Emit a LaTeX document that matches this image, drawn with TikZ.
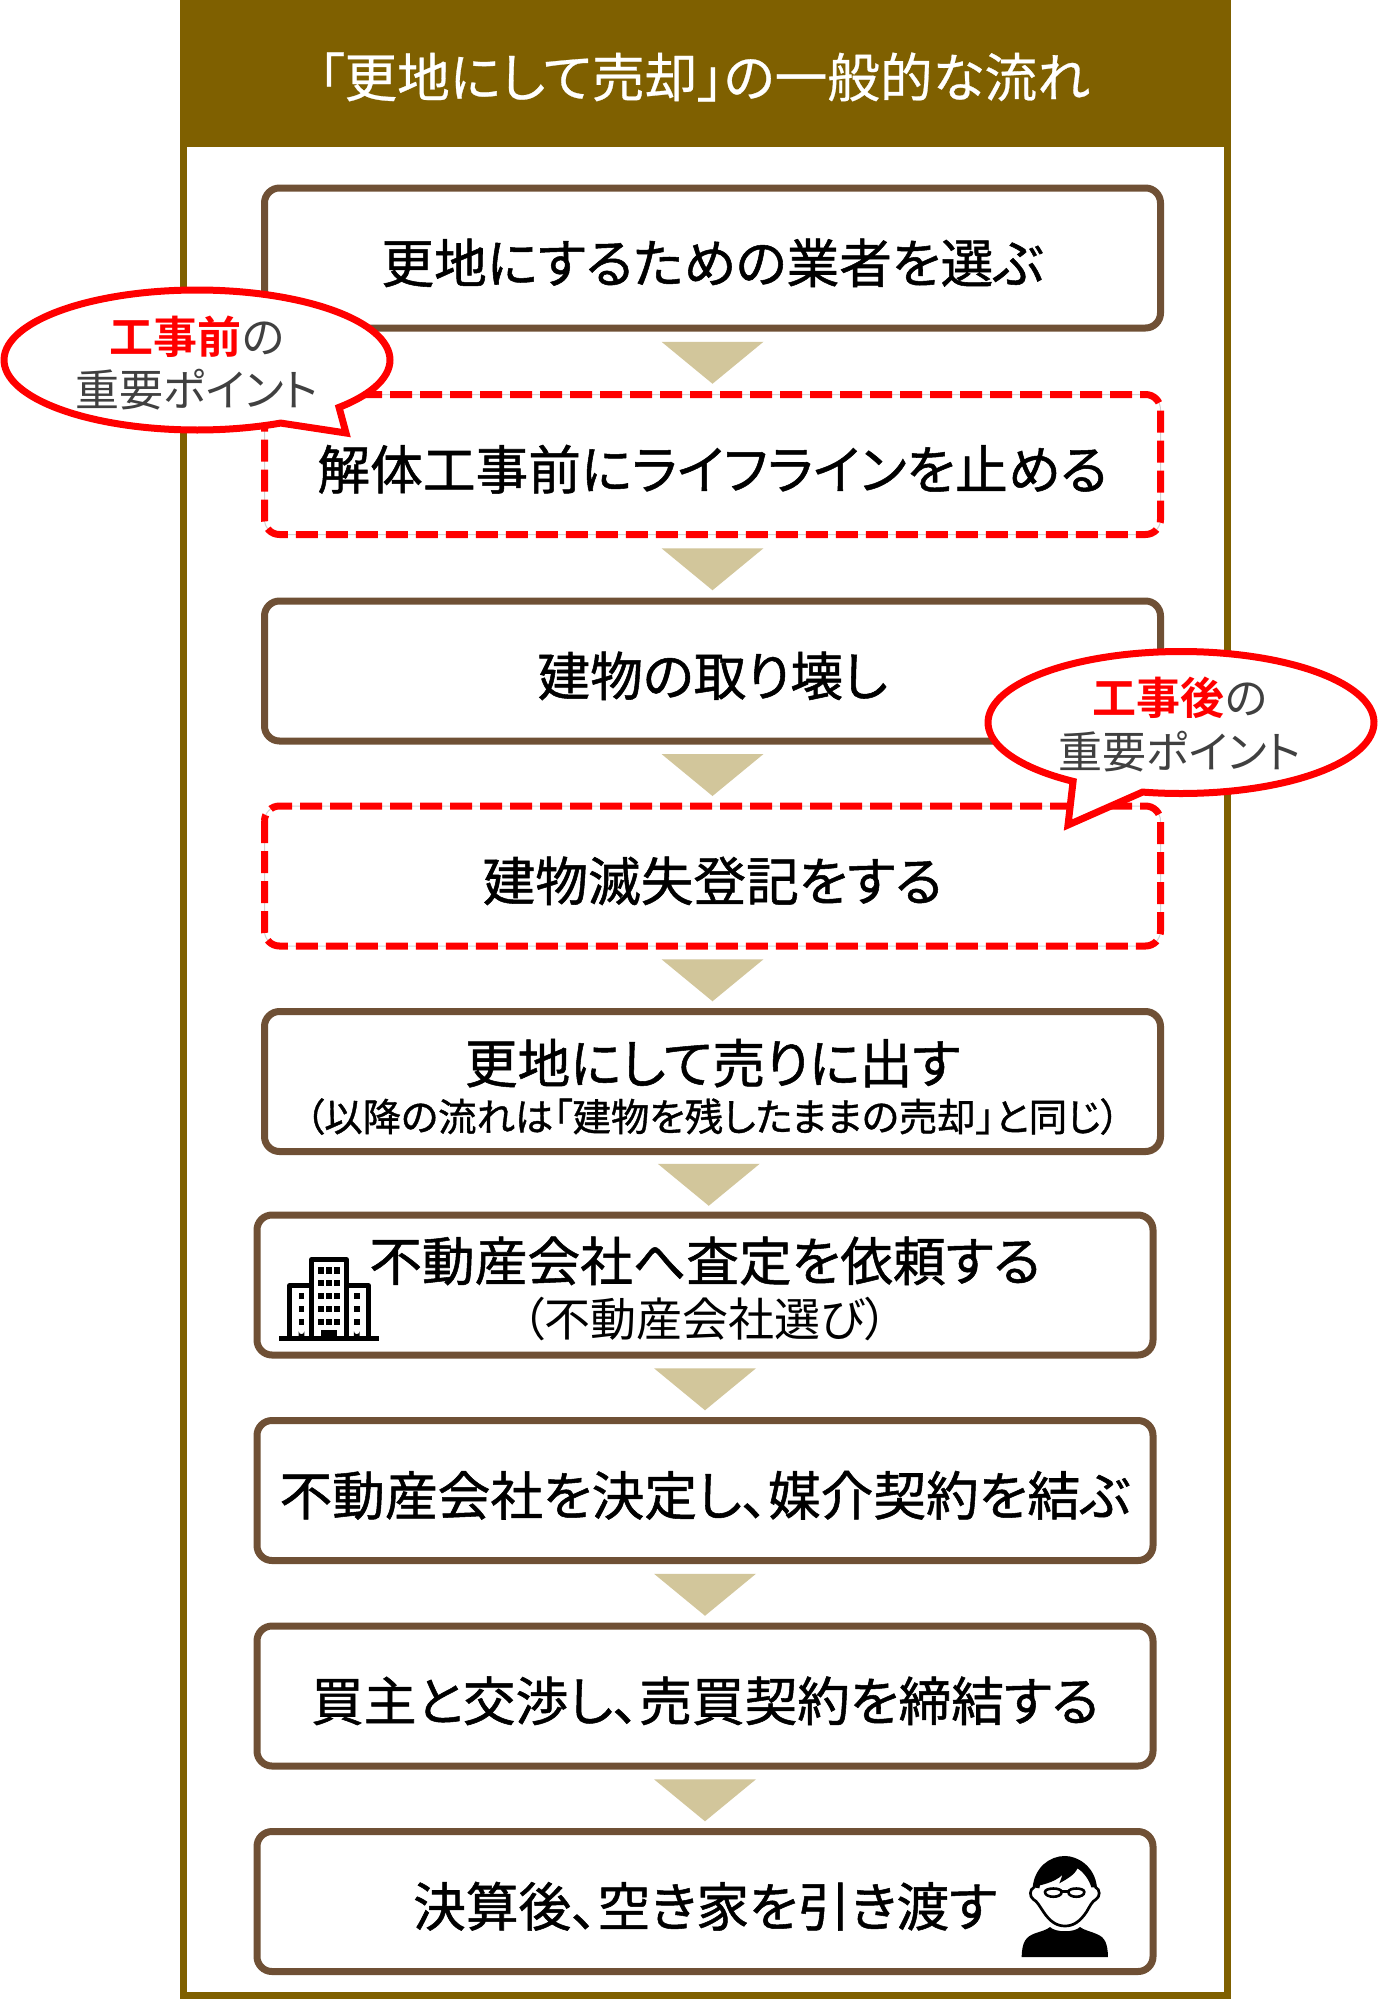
\documentclass[tikz,border=0pt]{standalone}
\usepackage{fontspec}
\setmainfont{Noto Sans CJK JP}
\newfontfamily\jpm[RawFeature={+palt},FakeBold=1.0]{Noto Sans CJK JP}
\newfontfamily\jpt[RawFeature={+palt},FakeBold=0.5]{Noto Sans CJK JP}
\newfontfamily\jpr[RawFeature={+palt}]{Noto Sans CJK JP}
\newfontfamily\jpb[RawFeature={+palt}]{Noto Sans CJK JP Bold}
\usetikzlibrary{calc}
\definecolor{framec}{HTML}{7F6000}
\definecolor{boxc}{HTML}{6F5035}
\definecolor{tric}{HTML}{D2C69B}
\definecolor{greyt}{HTML}{404040}
\newcommand{\bigt}{\fontsize{52.7}{60}\selectfont}
\newcommand{\smallt}{\fontsize{38.4}{44}\selectfont}
\newcommand{\callt}{\fontsize{44}{53}\selectfont}
\newcommand{\dn}{\rule{0pt}{54pt}}
\tikzset{
  stepbox/.style={rectangle,rounded corners=15pt,draw=boxc,fill=white,line width=7pt,outer sep=0pt,
    minimum width=896pt,minimum height=140pt,inner sep=0pt,align=center,font=\jpm\bigt,text=black},
  keyline/.style={rounded corners=15pt,draw=black!18,line width=1pt},
  keydash/.style={rounded corners=15pt,draw=red,line width=7pt,dash pattern=on 22pt off 8pt},
  tri/.style={fill=tric,draw=none},
  call/.style={draw=red,fill=white,line width=7pt,miter limit=10},
  calltext/.style={inner sep=0pt,align=center,font=\jpr\callt,text=greyt},
  ink/.style={fill=black,draw=none},
}
\newcommand{\keyframe}[1]{%
  \draw[keyline] (#1.north west) rectangle (#1.south east);
  \draw[keydash] (#1.north west) rectangle (#1.south east);}
\newcommand{\downtri}[2]{\fill[tri] ($(#1.south)!0.5!(#2.north)+(-51,-19.5)$) -- ++(102,0) -- ++(-51,42) -- cycle;}
\begin{document}
\begin{tikzpicture}[x=1pt,y=-1pt]
\useasboundingbox (0,0) rectangle (1379,1999);
\fill[white] (0,0) rectangle (1379,1999);
% frame
\fill[framec] (180,0) rectangle (1231,147);
\fill[framec] (180,147) rectangle (187,1999);
\fill[framec] (1224,147) rectangle (1231,1999);
\fill[framec] (187,1992) rectangle (1224,1999);
\node[inner sep=0pt,text=white,font=\jpt\fontsize{52.7}{60}\selectfont] (title) at (704,77) {「更地にして売却」の一般的な流れ};
% boxes
\node[stepbox] (b1) at (712.5,258) {\dn 更地にするための業者を選ぶ};
\node[stepbox,draw=none] (b2) at (712.5,464.5) {\dn 解体工事前にライフラインを止める};
\keyframe{b2}
\node[stepbox] (b3) at (712.5,671) {\dn 建物の取り壊し};
\node[stepbox,draw=none] (b4) at (712.5,876) {\dn 建物滅失登記をする};
\keyframe{b4}
\node[stepbox] (b5) at (712.5,1081.5) {\rule{0pt}{55pt}更地にして売りに出す\\[-12pt]{\smallt （以降の流れは「建物を残したままの売却」と同じ）}};
\node[stepbox] (b6) at (705,1285) {\rule{0pt}{52pt}不動産会社へ査定を依頼する\\[-4pt]{\jpr\fontsize{46}{50}\selectfont （不動産会社選び）}};
\node[stepbox] (b7) at (705,1490.5) {\dn 不動産会社を決定し、媒介契約を結ぶ};
\node[stepbox] (b8) at (705,1696) {\dn 買主と交渉し、売買契約を締結する};
\node[stepbox] (b9) at (705,1901.5) {\dn 決算後、空き家を引き渡す};
% triangles
\downtri{b1}{b2}
\downtri{b2}{b3}
\downtri{b3}{b4}
\downtri{b4}{b5}
\downtri{b5}{b6}
\downtri{b6}{b7}
\downtri{b7}{b8}
\downtri{b8}{b9}
% callouts
\draw[call] plot[domain=64.3:402.6,samples=120,smooth] ({197+193*cos(\x)},{360+70*sin(\x)}) -- (346,433) -- cycle;
\node[calltext] (c1a) at (197,337) {{\jpb\color{red}工事前}の};
\node[calltext] (c1b) at (197,390) {重要ポイント};
\draw[call] plot[domain=124:461.5,samples=120,smooth] ({1181+193*cos(\x)},{722.5+71*sin(\x)}) -- (1068,825) -- cycle;
\node[calltext] (c2a) at (1180,698) {{\jpb\color{red}工事後}の};
\node[calltext] (c2b) at (1180,752) {重要ポイント};
% building icon
\begin{scope}[shift={(240,1190)},x=0.3333pt,y=-0.3333pt]
  \fill[ink] (116,438) rectangle (416,453);
  \draw[draw=black,line width=5pt,line join=round] (149,440) -- (149,287) -- (215,287);
  \draw[draw=black,line width=5pt,line join=round] (385,440) -- (385,287) -- (319,287);
  \draw[draw=black,line width=5pt,line join=round] (215,440) -- (215,209) -- (319,209) -- (319,440);
  \foreach \r in {232,270,308,347,386}{
    \foreach \c in {234,258,282}{\fill[ink] (\c,\r) rectangle ++(17,19);}}
  \foreach \r in {308,347,386}{
    \fill[ink] (176,\r) rectangle ++(17,18);
    \fill[ink] (342,\r) rectangle ++(17,18);}
  \fill[ink] (243,420) rectangle (290,440);
  \fill[ink] (176,438) -- (176,424) arc[start angle=180,end angle=0,radius=8.5] -- (193,438) -- cycle;
  \fill[ink] (342,438) -- (342,424) arc[start angle=180,end angle=0,radius=8.5] -- (359,438) -- cycle;
\end{scope}
% person icon
\begin{scope}[shift={(950,1800)},x=0.3333pt,y=-0.3333pt]
  \fill[ink] (215,471) .. controls (216,425) and (228,410) .. (255,400)
    .. controls (275,393) and (290,390) .. (300,381)
    .. controls (315,398) and (375,398) .. (390,381)
    .. controls (400,390) and (425,395) .. (440,402)
    .. controls (465,412) and (473,430) .. (474,471) -- cycle;
  % face
  \draw[draw=black,line width=2.7pt,fill=white] (252,262)
    .. controls (238,268) and (238,290) .. (250,298)
    .. controls (262,304) and (268,318) .. (280,335)
    .. controls (300,365) and (320,378) .. (345,378)
    .. controls (370,378) and (390,365) .. (410,335)
    .. controls (420,318) and (426,304) .. (438,298)
    .. controls (451,290) and (451,268) .. (437,262)
    .. controls (430,200) and (380,172) .. (345,172)
    .. controls (300,172) and (258,205) .. (252,262) -- cycle;
  % hair
  \fill[ink] (252,262)
    .. controls (258,205) and (300,171) .. (345,171)
    .. controls (385,171) and (430,200) .. (437,262)
    -- (424,262)
    .. controls (418,240) and (400,215) .. (382,205)
    .. controls (375,225) and (345,240) .. (328,250)
    .. controls (332,240) and (335,232) .. (337,225)
    .. controls (315,245) and (285,252) .. (270,256)
    -- (268,265) -- cycle;
  % glasses
  \draw[draw=black,line width=2.6pt] (285,276) .. controls (285,262) and (335,262) .. (335,276) .. controls (335,295) and (285,295) .. (285,276) -- cycle;
  \draw[draw=black,line width=2.6pt] (355,276) .. controls (355,262) and (403,262) .. (403,276) .. controls (403,295) and (355,295) .. (355,276) -- cycle;
  \draw[draw=black,line width=2.6pt] (335,274) -- (355,274);
\end{scope}
\end{tikzpicture}
\end{document}
